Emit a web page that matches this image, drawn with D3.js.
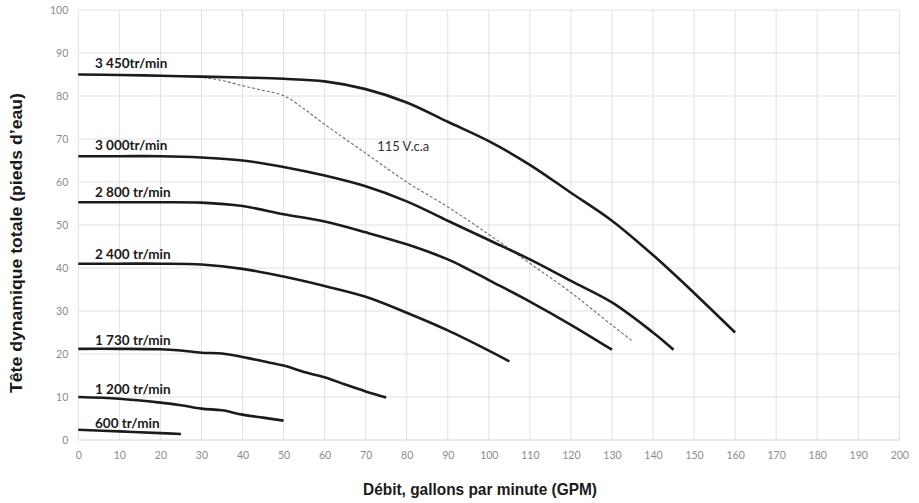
<!DOCTYPE html>
<html><head><meta charset="utf-8">
<script src="https://cdn.jsdelivr.net/npm/d3@7"></script>
<style>
html,body{margin:0;padding:0;background:#fff;}
svg{display:block;}
</style>
</head><body>
<svg id="chart" width="919" height="503"></svg>
<script>
// ---- data ----
const xTicks = [0,10,20,30,40,50,60,70,80,90,100,110,120,130,140,150,160,170,180,190,200];
const yTicks = [0,10,20,30,40,50,60,70,80,90,100];

const rpm3450 = [[0,85],[10,84.9],[20,84.7],[30,84.5],[40,84.3],[50,84],[60,83.4],[70,81.6],[80,78.5],[90,74],[100,69.5],[110,64],[120,57.5],[130,51],[140,43],[150,34.2],[160,25]];
const rpm3000 = [[0,66],[10,66],[20,66],[30,65.7],[40,65],[50,63.5],[60,61.5],[70,59],[80,55.5],[90,51],[100,46.5],[110,42],[120,37],[130,32],[140,25],[145,21]];
const rpm2800 = [[0,55.3],[10,55.3],[20,55.3],[30,55.2],[40,54.4],[50,52.5],[60,50.8],[70,48.3],[80,45.5],[90,42],[95,39.7],[100,37.2],[110,32.2],[120,26.8],[130,21]];
const rpm2400 = [[0,41],[10,41],[20,41],[30,40.8],[40,39.8],[50,38],[60,35.8],[70,33.3],[80,29.6],[90,25.5],[100,20.8],[105,18.3]];
const rpm1730 = [[0,21.2],[10,21.2],[20,21.1],[25,20.8],[30,20.3],[35,20.1],[40,19.3],[45,18.3],[50,17.3],[55,15.8],[60,14.6],[65,12.9],[70,11.3],[75,9.9]];
const rpm1200 = [[0,10],[10,9.6],[20,8.7],[25,8.1],[30,7.3],[35,6.9],[40,5.9],[45,5.2],[50,4.5]];
const rpm600  = [[0,2.4],[10,2.0],[20,1.6],[25,1.4]];
const vca115  = [[0,85],[10,84.9],[20,84.7],[30,84.3],[35,83.6],[40,82.4],[45,81.3],[50,80.1],[55,77],[60,73.4],[70,66.7],[80,60],[90,54.2],[100,47.8],[110,41.1],[120,34.3],[130,26.7],[135,23]];

const curveLabels = ["3 450tr/min","3 000tr/min","2 800 tr/min","2 400 tr/min","1 730 tr/min","1 200 tr/min","600 tr/min"];
const curveLabelY = [86.6, 67.4, 56.4, 42.2, 22.0, 10.6, 2.8];
const solidSeries = [rpm3450, rpm3000, rpm2800, rpm2400, rpm1730, rpm1200, rpm600];
const dashedLabel = "115 V.c.a";
const dashedLabelPos = [72.8, 67.2];
const xTitle = "Débit, gallons par minute (GPM)";
const yTitle = "Tête dynamique totale (pieds d’eau)";

// ---- layout ----
const svg = d3.select("#chart");
const x = d3.scaleLinear().domain([0,200]).range([78.3, 899.3]);
const y = d3.scaleLinear().domain([0,100]).range([440, 10]);

const tickFont = "Lato, 'Open Sans', sans-serif";
const grid = svg.append("g");
grid.selectAll("line.v").data(xTicks).join("line")
  .attr("x1", d => x(d)).attr("x2", d => x(d))
  .attr("y1", y(100)).attr("y2", y(0))
  .attr("stroke", "#e1e1e1").attr("stroke-width", 1);
grid.selectAll("line.h").data(yTicks).join("line")
  .attr("x1", x(0)).attr("x2", x(200))
  .attr("y1", d => y(d)).attr("y2", d => y(d))
  .attr("stroke", d => d === 0 ? "#d4d4d4" : "#e1e1e1").attr("stroke-width", 1);

// axes (labels only, via d3 axis)
const xAxis = svg.append("g").attr("transform", `translate(0,${y(0)})`)
  .call(d3.axisBottom(x).tickValues(xTicks).tickSize(0).tickPadding(12));
const yAxis = svg.append("g").attr("transform", `translate(${x(0)},0)`)
  .call(d3.axisLeft(y).tickValues(yTicks).tickSize(0).tickPadding(10));
[xAxis, yAxis].forEach(a => {
  a.select(".domain").remove();
  a.selectAll("text").attr("fill", "#8c8c8c").style("font-family", tickFont).style("font-size", "10.5px");
});

// lines
const line = d3.line().x(d => x(d[0])).y(d => y(d[1])).curve(d3.curveCatmullRom.alpha(0.5));
svg.append("path").datum(vca115).attr("d", line)
  .attr("fill", "none").attr("stroke", "#6d6d6d").attr("stroke-width", 1.1)
  .attr("stroke-dasharray", "3,2");
svg.selectAll("path.solid").data(solidSeries).join("path")
  .attr("class", "solid").attr("d", line)
  .attr("fill", "none").attr("stroke", "#1c1a1b").attr("stroke-width", 2.6)
  .attr("stroke-linecap", "butt");

// curve labels
svg.selectAll("text.cl").data(curveLabels).join("text")
  .attr("class", "cl")
  .attr("x", 95).attr("y", (d, i) => y(curveLabelY[i]))
  .attr("fill", "#1a1a1a")
  .style("font-family", tickFont).style("font-weight", "bold").style("font-size", "13.5px")
  .text(d => d);

svg.append("text").attr("x", x(dashedLabelPos[0])).attr("y", y(dashedLabelPos[1]))
  .attr("fill", "#333")
  .style("font-family", tickFont).style("font-size", "13px")
  .text(dashedLabel);

// titles
const titleFont = "'Liberation Sans', Arial, sans-serif";
svg.append("text").attr("x", 480).attr("y", 495).attr("text-anchor", "middle")
  .attr("fill", "#1a1a1a")
  .attr("textLength", 234).attr("lengthAdjust", "spacingAndGlyphs")
  .style("font-family", titleFont).style("font-weight", "bold").style("font-size", "16.5px")
  .text(xTitle);
svg.append("text").attr("transform", "translate(22,243) rotate(-90)").attr("text-anchor", "middle")
  .attr("fill", "#1a1a1a")
  .attr("textLength", 300).attr("lengthAdjust", "spacingAndGlyphs")
  .style("font-family", titleFont).style("font-weight", "bold").style("font-size", "16.5px")
  .text(yTitle);
</script>
</body></html>
